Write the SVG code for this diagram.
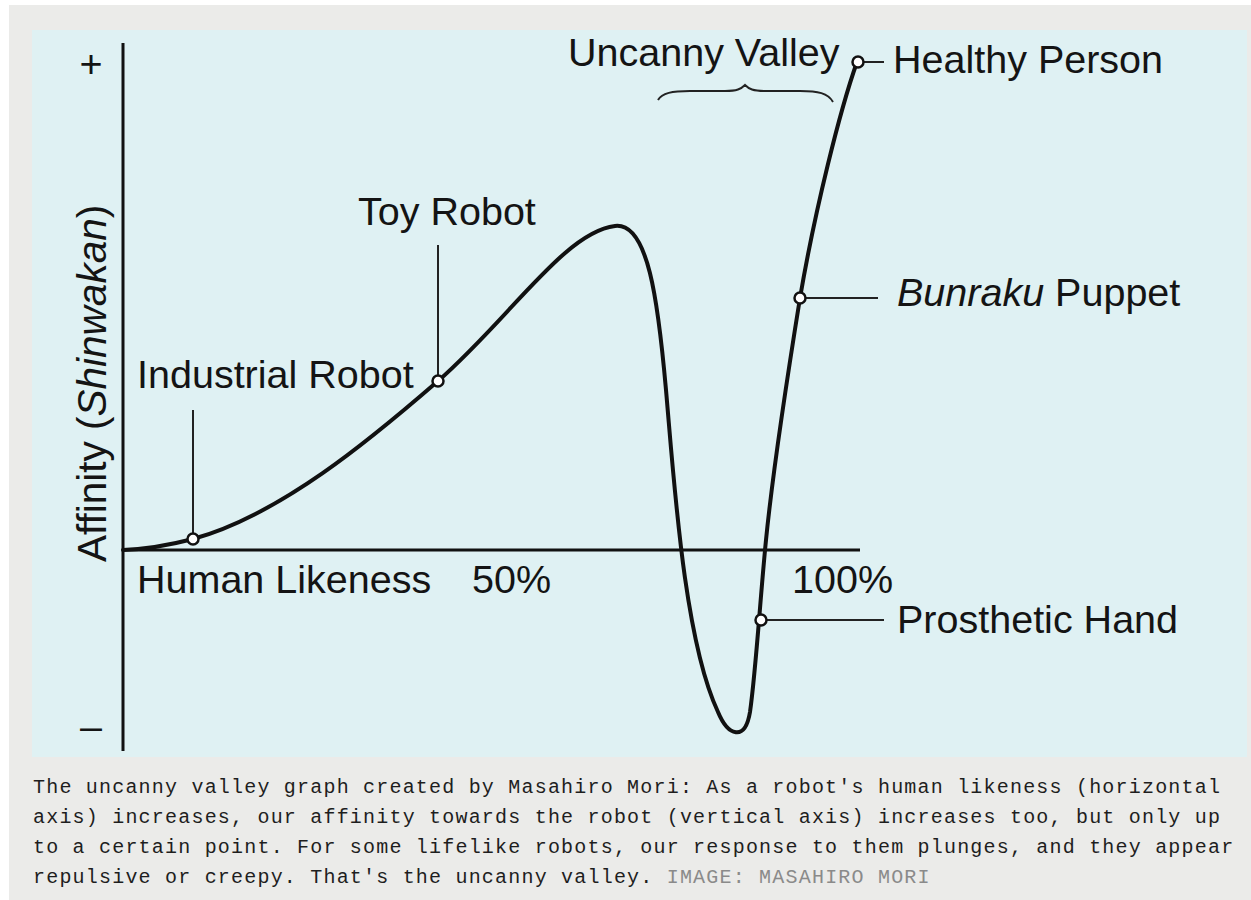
<svg xmlns="http://www.w3.org/2000/svg" width="1251" height="900" viewBox="0 0 1251 900">
  <style>
    .lbl { font-family: "Liberation Sans", Arial, sans-serif; font-size: 39.5px; fill: #141414; }
    .cap { font-family: "Liberation Mono", "DejaVu Sans Mono", monospace; font-size: 20px; fill: #1e1e1e; letter-spacing: 1.2px; }
    .src { fill: #8a8a8a; }
    .axis { stroke: #111111; stroke-width: 3; fill: none; }
    .curve { stroke: #111111; stroke-width: 4; fill: none; stroke-linecap: round; stroke-linejoin: round; }
    .lead { stroke: #222222; stroke-width: 2; fill: none; }
    .dot { fill: #ffffff; stroke: #111111; stroke-width: 2.5; }
  </style>
  <rect x="0" y="0" width="1251" height="900" fill="#ffffff"/>
  <rect x="9" y="5" width="1242" height="895" fill="#ebebe9"/>
  <rect x="32" y="30" width="1215" height="727" fill="#dff1f3"/>

  <g id="axes">
    <line class="axis" x1="123" y1="43" x2="123" y2="751"/>
    <line class="axis" x1="123" y1="550" x2="860" y2="550"/>
    <text class="lbl" x="91" y="77" text-anchor="middle">+</text>
    <text class="lbl" x="91" y="740" text-anchor="middle">–</text>
    <text class="lbl" style="font-size:40.5px" transform="translate(106,562) rotate(-90)">Affinity (<tspan font-style="italic">Shinwakan</tspan>)</text>
    <text class="lbl" x="137" y="593">Human Likeness</text>
    <text class="lbl" x="472" y="593">50%</text>
    <text class="lbl" x="792" y="593">100%</text>
  </g>

  <g id="connectors">
    <path class="curve" d="M123,550 C150,549 170,545 193,539 C280,515 370,440 438,381 C510,318 565,232 615,226 C648,222 658,300 666,390 C674,480 684,640 718,712 C728,736 745,742 750,712 C756,670 760,600 766,540 C774,460 790,360 800,298 C815,210 840,110 857,62"/>
    <line class="lead" x1="193" y1="410" x2="193" y2="534"/>
    <line class="lead" x1="438" y1="245" x2="438" y2="376"/>
    <line class="lead" x1="805" y1="298" x2="878" y2="298"/>
    <line class="lead" x1="766" y1="620" x2="884" y2="620"/>
    <line class="lead" x1="862" y1="62" x2="884" y2="62"/>
    <path class="lead" d="M658,100 C662,93 672,91 690,91 L725,91 C737,91 741,89 745,85 C749,89 753,91 765,91 L800,91 C818,91 828,93 833,102"/>
  </g>

  <g id="industrial-robot">
    <circle class="dot" cx="193" cy="539" r="5.5"/>
    <text class="lbl" x="137" y="388">Industrial Robot</text>
  </g>
  <g id="toy-robot">
    <circle class="dot" cx="438" cy="381" r="5.5"/>
    <text class="lbl" x="358" y="225">Toy Robot</text>
  </g>
  <g id="bunraku-puppet">
    <circle class="dot" cx="800" cy="298" r="5.5"/>
    <text class="lbl" x="897" y="306"><tspan font-style="italic">Bunraku</tspan> Puppet</text>
  </g>
  <g id="prosthetic-hand">
    <circle class="dot" cx="761" cy="620" r="5.5"/>
    <text class="lbl" x="897" y="633">Prosthetic Hand</text>
  </g>
  <g id="healthy-person">
    <circle class="dot" cx="858" cy="62" r="5.5"/>
    <text class="lbl" x="893" y="73">Healthy Person</text>
  </g>
  <g id="uncanny-valley">
    <text class="lbl" x="568" y="66">Uncanny Valley</text>
  </g>

  <g id="caption">
    <text class="cap" x="33" y="793">The uncanny valley graph created by Masahiro Mori: As a robot's human likeness (horizontal</text>
    <text class="cap" x="33" y="823">axis) increases, our affinity towards the robot (vertical axis) increases too, but only up</text>
    <text class="cap" x="33" y="853">to a certain point. For some lifelike robots, our response to them plunges, and they appear</text>
    <text class="cap" x="33" y="883">repulsive or creepy. That's the uncanny valley. <tspan class="src">IMAGE: MASAHIRO MORI</tspan></text>
  </g>
</svg>
